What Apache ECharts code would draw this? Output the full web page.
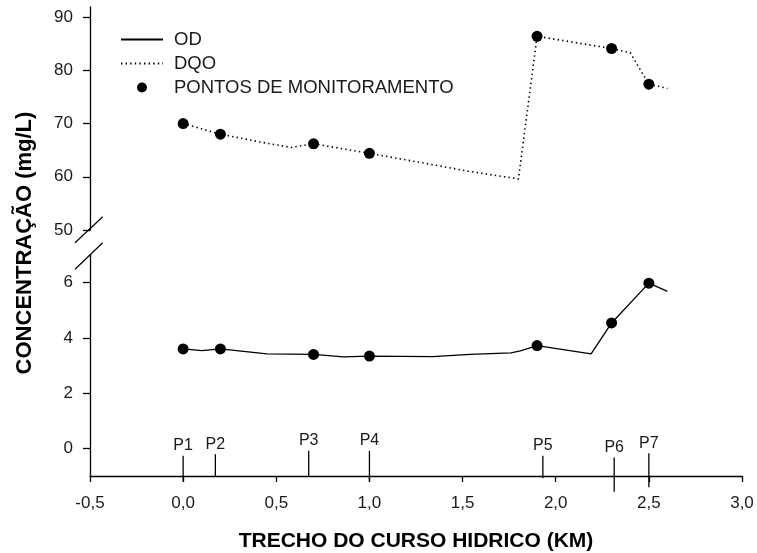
<!DOCTYPE html>
<html>
<head>
<meta charset="utf-8">
<script src="https://cdn.jsdelivr.net/npm/echarts@6/dist/echarts.min.js"></script>
<style>
  html, body { margin: 0; padding: 0; background: #fff; }
  #c1 { width: 757px; height: 553px; }
</style>
</head>
<body>
<div id="c1"></div>
<script>
// OD curve (lower panel)
var odX = [0.0, 0.1, 0.2, 0.45, 0.7, 0.86, 1.0, 1.34, 1.54, 1.76, 1.81, 1.9, 2.19, 2.3, 2.5, 2.6];
var odY = [3.60, 3.54, 3.60, 3.42, 3.40, 3.31, 3.34, 3.32, 3.40, 3.46, 3.53, 3.72, 3.42, 4.54, 5.98, 5.68];

// DQO curve (upper panel)
var dqoX = [0.0, 0.2, 0.45, 0.58, 0.7, 1.0, 1.32, 1.52, 1.8, 1.9, 2.3, 2.4, 2.5, 2.6];
var dqoY = [70.0, 68.0, 66.3, 65.5, 66.2, 64.4, 62.4, 61.1, 59.6, 86.4, 84.1, 83.3, 77.4, 76.6];

// monitoring points
var pointX = [0.0, 0.2, 0.7, 1.0, 1.9, 2.3, 2.5];
var pointOD = [3.60, 3.60, 3.40, 3.34, 3.72, 4.54, 5.98];
var pointDQO = [70.0, 68.0, 66.2, 64.4, 86.4, 84.1, 77.4];

// station markers P1..P7 (x, top of stick, bottom of stick)
var stationNames = ['P1', 'P2', 'P3', 'P4', 'P5', 'P6', 'P7'];
var stationX = [0.0, 0.173, 0.674, 1.0, 1.931, 2.314, 2.5];
var stationTop = [-0.27, -0.21, -0.09, -0.09, -0.27, -0.33, -0.18];
var stationBottom = [-1.2, -1.03, -1.03, -1.2, -1.08, -1.57, -1.41];

// tick values
var xTicks = [-0.5, 0, 0.5, 1, 1.5, 2, 2.5, 3];
var upperTicks = [50, 60, 70, 80, 90];
var lowerTicks = [0, 2, 4, 6];

var zip = function (a, b) { return a.map(function (v, i) { return [v, b[i]]; }); };
var fontFam = "'Liberation Sans', Arial, sans-serif";
var axisCol = '#000';
var txtCol = '#1a1a1a';

var chartDom = document.getElementById('c1');
var myChart = echarts.init(chartDom);
var option;

function yAxisCfg(idx, min, max, ticks) {
    return {
        type: 'value', gridIndex: idx, min: min, max: max,
        splitLine: { show: false },
        axisLine: { show: true, onZero: false, lineStyle: { color: axisCol, width: 1.3 } },
        axisTick: { show: true, length: 7, customValues: ticks, lineStyle: { color: axisCol, width: 1.3 } },
        axisLabel: { customValues: ticks, margin: 17, color: txtCol, fontSize: 17, fontFamily: fontFam }
    };
}

option = {
    animation: false,
    backgroundColor: '#fff',
    grid: [
        { left: 90, right: 15, top: 7, height: 223 },
        { left: 90, right: 15, top: 255, height: 222 }
    ],
    legend: {
        orient: 'vertical',
        left: 120,
        top: 30,
        padding: 0,
        itemWidth: 42,
        itemHeight: 10,
        itemGap: 5,
        textStyle: { color: txtCol, fontSize: 18.5, fontFamily: fontFam, padding: [0, 0, 0, 6] },
        data: [
            { name: 'OD', itemStyle: { opacity: 0 } },
            { name: 'DQO', itemStyle: { opacity: 0 } },
            { name: 'PONTOS DE MONITORAMENTO' }
        ]
    },
    xAxis: [
        { type: 'value', gridIndex: 0, min: -0.5, max: 3, show: false },
        {
            type: 'value', gridIndex: 1, min: -0.5, max: 3, interval: 0.5,
            splitLine: { show: false },
            axisLine: { show: true, onZero: false, lineStyle: { color: axisCol, width: 1.3 } },
            axisTick: { show: true, length: 6, customValues: xTicks, lineStyle: { color: axisCol, width: 1.3 } },
            axisLabel: {
                customValues: xTicks, margin: 19, color: txtCol, fontSize: 17, fontFamily: fontFam,
                formatter: function (v) { return v.toFixed(1).replace('.', ','); }
            },
            name: 'TRECHO DO CURSO HIDRICO (KM)',
            nameLocation: 'middle',
            nameGap: 55,
            nameTextStyle: { color: '#000', fontSize: 21, fontWeight: 'bold', fontFamily: fontFam }
        }
    ],
    yAxis: [
        yAxisCfg(0, 50, 91.9, upperTicks),
        yAxisCfg(1, -1, 7, lowerTicks)
    ],
    graphic: [
        // axis break marks
        { type: 'line', shape: { x1: 75, y1: 242.7, x2: 102.7, y2: 216.7 }, style: { stroke: '#000', lineWidth: 1.2 } },
        { type: 'line', shape: { x1: 75, y1: 269.3, x2: 102.7, y2: 242.7 }, style: { stroke: '#000', lineWidth: 1.2 } },
        {
            type: 'text', x: 25, y: 243, rotation: Math.PI / 2,
            style: {
                text: 'CONCENTRAÇÃO (mg/L)', align: 'center', verticalAlign: 'middle',
                font: 'bold 22px ' + fontFam, fill: '#000'
            }
        }
    ],
    series: [
        {
            name: 'OD', type: 'line', xAxisIndex: 1, yAxisIndex: 1,
            symbol: 'none', data: zip(odX, odY),
            lineStyle: { color: '#000', width: 1.3 }, itemStyle: { color: '#000' }
        },
        {
            name: 'DQO', type: 'line', xAxisIndex: 0, yAxisIndex: 0,
            symbol: 'none', data: zip(dqoX, dqoY),
            lineStyle: { color: '#000', width: 1.6, type: [1.4, 3.2] }, itemStyle: { color: '#000' }
        },
        {
            name: 'PONTOS DE MONITORAMENTO', type: 'scatter', xAxisIndex: 0, yAxisIndex: 0,
            symbol: 'circle', symbolSize: 11, data: zip(pointX, pointDQO),
            itemStyle: { color: '#000', opacity: 1 }
        },
        {
            name: 'PONTOS DE MONITORAMENTO', type: 'scatter', xAxisIndex: 1, yAxisIndex: 1,
            symbol: 'circle', symbolSize: 11, data: zip(pointX, pointOD),
            itemStyle: { color: '#000', opacity: 1 }
        },
        {
            name: 'estacoes', type: 'custom', xAxisIndex: 1, yAxisIndex: 1, clip: false,
            data: stationX.map(function (x, i) { return [x, stationTop[i], stationBottom[i]]; }),
            renderItem: function (params, api) {
                var p1 = api.coord([api.value(0), api.value(1)]);
                var p2 = api.coord([api.value(0), api.value(2)]);
                return {
                    type: 'group',
                    children: [
                        { type: 'line', shape: { x1: p1[0], y1: p1[1], x2: p2[0], y2: p2[1] }, style: { stroke: '#000', lineWidth: 1.3 } },
                        {
                            type: 'text', x: p1[0], y: p1[1] - 2,
                            style: {
                                text: stationNames[params.dataIndex], align: 'center', verticalAlign: 'bottom',
                                font: '16px ' + fontFam, fill: txtCol
                            }
                        }
                    ]
                };
            }
        }
    ]
};
myChart.setOption(option);
</script>
</body>
</html>
